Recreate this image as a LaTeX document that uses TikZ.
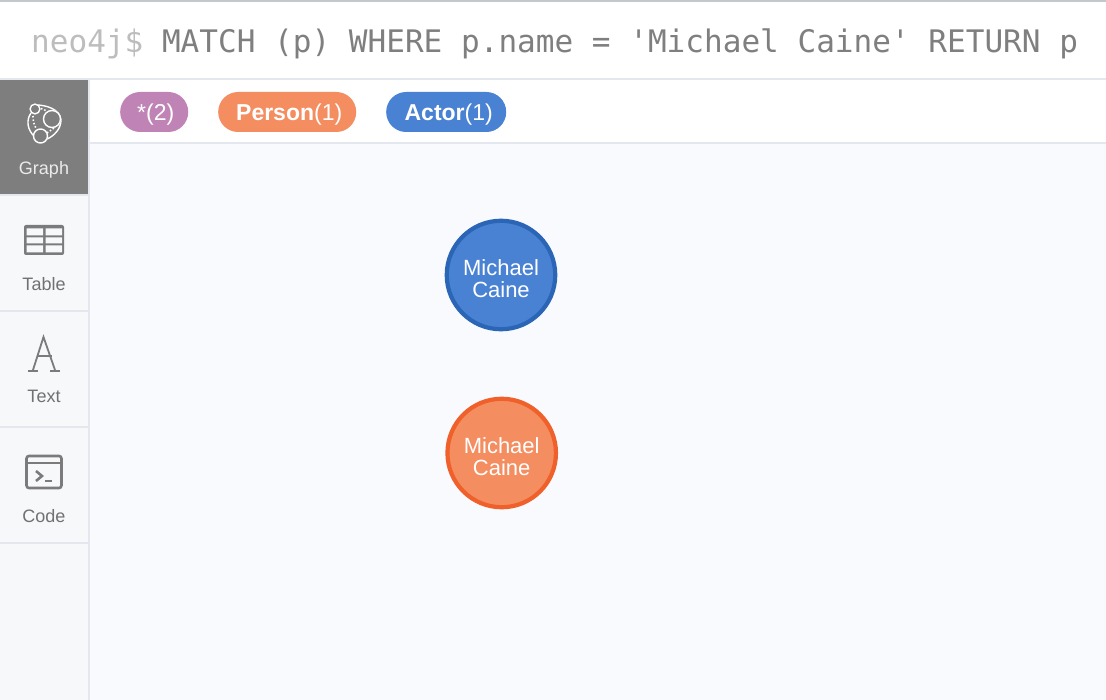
\documentclass[tikz,border=0pt]{standalone}
\usepackage{fontspec}
\setmainfont{Liberation Sans}
\setmonofont{DejaVu Sans Mono}
\definecolor{bgpane}{HTML}{F9FAFD}
\definecolor{sidebg}{HTML}{F7F8FA}
\definecolor{rulec}{HTML}{E4E7EE}
\definecolor{toprule}{HTML}{C3C8CC}
\definecolor{greyic}{HTML}{7B7B7B}
\definecolor{txtgrey}{HTML}{717172}
\definecolor{promptc}{HTML}{BDBDBD}
\definecolor{cmdc}{HTML}{7F7F7F}
\definecolor{activebg}{HTML}{7E7E7E}
\definecolor{pinkc}{HTML}{C083B6}
\definecolor{orangec}{HTML}{F48D60}
\definecolor{orangedk}{HTML}{F0602B}
\definecolor{bluec}{HTML}{4A82D3}
\definecolor{bluedk}{HTML}{2B65B5}
\tikzset{
 x=1pt,y=-1pt,
 pillbox/.style={rounded corners=19.9pt,inner sep=0pt,minimum height=40pt,text height=23pt,text depth=5pt,text=white,font=\fontsize{23}{23}\selectfont,anchor=west},
 gnode/.style={circle,line width=4.2pt,minimum size=108.5pt,inner sep=0pt,text=white,align=center,font=\fontsize{22}{22}\selectfont},
 sidelabel/.style={text=txtgrey,font=\fontsize{18}{18}\selectfont},
 sideline/.style={rulec,line width=2pt},
 icon/.style={greyic,line width=2.6pt},
 dotline/.style={line width=1.6pt,dash pattern=on 1.5pt off 2pt},
}
\newcommand{\nodelift}{\rule{0pt}{24pt}}
\begin{document}
\begin{tikzpicture}
\useasboundingbox (0,0) rectangle (1106,700);
\fill[white] (0,0) rectangle (1106,700);
\fill[bgpane] (90,143) rectangle (1106,700);
\fill[sidebg] (0,80) rectangle (89,700);
\fill[toprule] (0,0) rectangle (1106,2);
\draw[sideline] (0,79) -- (1106,79);
\draw[sideline] (90,143) -- (1106,143);
\draw[sideline] (89,80) -- (89,700);
\node[anchor=base west,inner sep=0pt,font=\ttfamily\fontsize{31.05}{31}\selectfont] (cmd) at (31,53)
 {\textcolor{promptc}{neo4j\$} \textcolor{cmdc}{MATCH (p) WHERE p.name = 'Michael Caine' RETURN p}};
% sidebar
\fill[activebg] (0,80) rectangle (88,195);
\draw[sideline] (0,195) -- (88,195);
\draw[sideline] (0,311) -- (88,311);
\draw[sideline] (0,427) -- (88,427);
\draw[sideline] (0,543) -- (88,543);
\node[sidelabel,text=white!92!black] (lgraph) at (44,170) {Graph};
\node[sidelabel] (ltable) at (44,284) {Table};
\node[sidelabel] (ltext) at (44,396) {Text};
\node[sidelabel] (lcode) at (44,516) {Code};
% graph icon
\begin{scope}[white,line width=1.4pt]
\draw (31,113) .. controls (26,120) and (27,130) .. (35,137);
\draw (36,105) .. controls (46,105) and (60,109) .. (61,120) .. controls (61,129) and (54,136) .. (47,139);
\fill[activebg] (52,119) circle (9);
\draw (52,119) circle (8.5);
\fill[activebg] (35,109) circle (5.5);
\draw (35,109) circle (4.9);
\fill[activebg] (40.5,136) circle (7.5);
\draw (40.5,136) circle (7);
\draw[dotline] (33,116) .. controls (33,121) and (34,125) .. (36.5,129);
\draw[dotline] (41,108.5) -- (47,111);
\draw[dotline] (47,133) -- (54,128);
\end{scope}
% table icon
\fill[greyic,rounded corners=2pt] (24,225) rectangle (64,255);
\fill[sidebg] (26.5,228.5) rectangle (43.2,235.5) (45.5,228.5) rectangle (62,235.5)
 (26.5,237.5) rectangle (43.2,243.5) (45.5,237.5) rectangle (62,243.5)
 (26.5,245.5) rectangle (43.2,252.5) (45.5,245.5) rectangle (62,252.5);
% A icon
\draw[icon,line width=1.8pt] (33,370) -- (43.5,337) -- (55,370);
\draw[icon,line width=1.6pt] (36.5,356) -- (51.5,356);
\draw[icon,line width=2pt] (28,371) -- (38,371) (50,371) -- (60,371);
% code icon
\draw[icon,rounded corners=2.5pt] (26.5,456) rectangle (61.5,488);
\draw[icon] (26.5,463) -- (61.5,463);
\draw[icon] (36,471) -- (42,476) -- (36,481);
\draw[icon] (45,481) -- (52,481);
% pills
\node[pillbox,fill=pinkc,minimum width=68pt] (pstar) at (120,112) {\hspace*{3pt}*(2)};
\node[pillbox,fill=orangec,minimum width=138pt] (pperson) at (218,112) {\hspace*{4pt}\textbf{Person}(1)};
\node[pillbox,fill=bluec,minimum width=120pt] (pactor) at (386,112) {\hspace*{5pt}\textbf{Actor}(1)};
% nodes
\node[gnode,draw=bluedk,fill=bluec] (actor) at (501,275) {\nodelift Michael\\Caine};
\node[gnode,draw=orangedk,fill=orangec] (person) at (501.7,453) {\nodelift Michael\\Caine};
\end{tikzpicture}
\end{document}
